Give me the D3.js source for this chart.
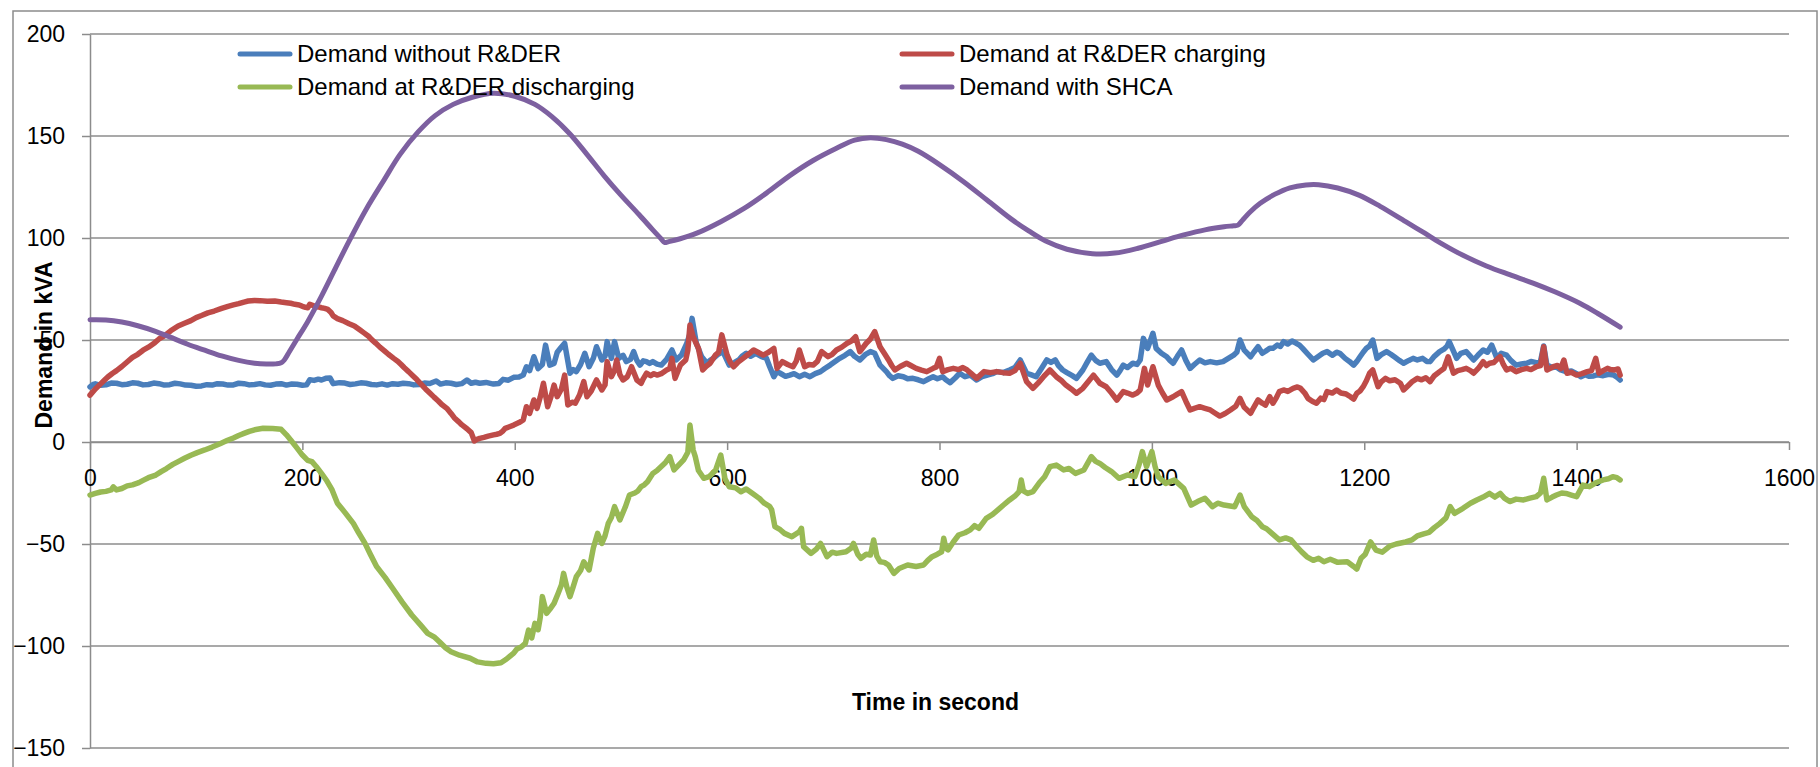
<!DOCTYPE html>
<html>
<head>
<meta charset="utf-8">
<script src="https://cdn.jsdelivr.net/npm/d3@7"></script>
<style>
  html, body { margin: 0; padding: 0; background: #ffffff; }
  svg { display: block; font-family: "Liberation Sans", Arial, sans-serif; }
</style>
</head>
<body>
<svg id="chart" width="1820" height="767"></svg>
<script>
// ---------------- DATA ----------------
const seriesNames = ["Demand without R&DER", "Demand at R&DER charging", "Demand at R&DER discharging", "Demand with SHCA"];
const xTicks = [0, 200, 400, 600, 800, 1000, 1200, 1400, 1600];
const yTicks = [-150, -100, -50, 0, 50, 100, 150, 200];
const xTitle = "Time in second";
const yTitle = "Demand in kVA";

// [time (s), demand (kVA)]
const demandWithout = [
 [0,27],[3,28.2],[5,28.5],[10,27.8],[15,28],[20,28.9],[25,28.8],[30,28.1],[35,28.3],[40,29.0],[45,28.8],[50,28.0],[55,28.2],
 [60,28.9],[65,28.6],[70,27.9],[75,28.1],[80,28.8],[85,28.5],[90,27.9],[95,27.8],[100,27.3],[105,27.5],[110,28.1],[115,27.9],
 [120,28.6],[125,28.4],[130,27.9],[135,28.0],[140,28.8],[145,28.6],[150,28.0],[155,28.2],[160,28.6],[165,28.0],[170,27.8],
 [175,28.4],[180,28.6],[185,27.9],[190,28.4],[195,28.3],[200,27.8],[204,28.0],[207,30.5],[211,30.2],[215,30.8],[218,30.4],
 [222,31.2],[226,31.4],[229,28.6],[235,29.1],[240,28.9],[245,28.2],[250,28.5],[255,29.0],[260,28.8],[265,28.2],[270,28.0],
 [275,28.5],[280,27.9],[285,28.6],[290,28.3],[295,28.8],[300,28.6],[305,28.0],[310,28.2],[315,28.9],[320,28.7],[326,29.9],
 [330,28.4],[335,29.0],[340,28.8],[345,28.2],[350,28.6],[355,30.4],[359,28.8],[363,29.3],[367,28.8],[373,29.2],[380,28.4],
 [385,28.7],[389,30.7],[394,30.3],[399,31.7],[404,31.9],[408,32.8],[411,36.9],[414,35],[418,41.8],[422,36],[426,38],[429,47.5],
 [433,37.7],[437,38.5],[440,44],[443,45.9],[447,48.4],[452,33.7],[455,35.5],[458,34.5],[462,38],[466,43.5],[470,36.9],
 [474,41],[477,46.7],[482,40.2],[485,42],[487,49.2],[491,41],[494,49.2],[498,41],[502,42.5],[505,39.4],[509,40.5],[512,44.3],
 [515,40],[518,37.7],[521,39.8],[524,39.4],[527,38.5],[530,39.4],[534,38.2],[538,37.7],[543,40.5],[548,45.1],[552,40.2],
 [557,42.6],[562,48.4],[565,53],[567,60.6],[571,48.4],[576,41.8],[581,38.6],[584,40],[587,41],[591,42.8],[596,44.3],
 [599,41],[602,37.7],[607,39],[611,40.2],[614,42],[618,43.5],[622,42],[627,43.5],[632,42],[637,41],[640,37],[644,32],
 [647,34.5],[650,33.7],[655,32.2],[659,32.8],[663,33.5],[668,32],[673,33.2],[678,32],[683,33.5],[688,34.5],[692,36],
 [697,37.7],[701,39.2],[706,41],[711,42.5],[716,44.3],[720,42],[725,40.2],[730,42.8],[735,44.3],[739,43.5],[744,37.7],
 [750,34.5],[753,32.5],[756,31.2],[761,32.5],[766,32],[770,31],[775,31.2],[780,30.5],[785,29.6],[790,31],[794,32],[798,31],
 [803,32],[806,30.5],[810,29.1],[815,31.5],[819,33.7],[824,32],[829,32.8],[835,30.4],[840,32],[845,32.8],[850,33.5],
 [854,34.5],[860,34],[866,35.3],[871,36.5],[876,40.2],[882,33.7],[886,33],[891,32],[896,36],[901,40.2],[905,39],[909,40.2],
 [912,37.5],[916,35.3],[920,34],[925,32.5],[929,31.2],[935,35.3],[939,39],[943,42.6],[947,40],[951,38.6],[957,39.4],
 [962,35.5],[967,32.8],[970,35],[973,37.7],[977,36.5],[982,38.6],[986,38],[989,40.2],[992,50.8],[996,45.9],[1001,53.3],
 [1004,45.9],[1009,43.5],[1014,41.8],[1017,40],[1020,38.6],[1024,42],[1028,45.1],[1032,40],[1036,36.1],[1040,38],
 [1045,40.2],[1050,38.8],[1055,39.4],[1061,38.8],[1067,39.4],[1072,41],[1077,42.6],[1080,44],[1083,50],[1087,45],[1093,41.8],
 [1096,44],[1100,46.7],[1104,43.5],[1107,44.5],[1111,46],[1114,45.9],[1118,47.5],[1121,46.8],[1124,49.2],[1128,48],
 [1132,49.5],[1136,48.4],[1139,47.5],[1142,45.9],[1147,43],[1152,40.2],[1157,42],[1161,43.5],[1165,44.3],[1170,42.5],
 [1174,44],[1177,43.5],[1182,41],[1186,39.5],[1190,37.7],[1193,39.5],[1196,41.8],[1199,44],[1202,45.9],[1205,47],[1208,50],
 [1212,41],[1216,42.8],[1221,44.3],[1225,43],[1229,41.5],[1233,40],[1237,38.6],[1242,40],[1246,41],[1250,40.2],[1255,41],
 [1259,39.5],[1262,39.4],[1266,42],[1271,44.3],[1275,45.5],[1278,47],[1280,49.2],[1284,44.5],[1287,41],[1291,43.5],
 [1296,44.3],[1300,42],[1303,40.2],[1307,42.5],[1312,45.1],[1316,44],[1320,47.5],[1325,41],[1329,43.5],[1334,42.6],
 [1338,40],[1343,37.7],[1348,38.2],[1353,38.6],[1357,39.5],[1362,38.9],[1366,39.5],[1369,47.1],[1372,37.7],[1377,36.5],
 [1381,36.8],[1385,35.3],[1390,34.5],[1395,34.8],[1400,33.5],[1404,32],[1408,33],[1412,32.2],[1416,32.4],[1420,33],
 [1425,32.5],[1430,33.2],[1435,32.8],[1438,31.8],[1441,30.4]
];

const demandCharging = [
 [0,23],[5,26],[10,28.5],[14,30.5],[17,32],[21,33.6],[25,35],[30,37],[36,39.7],[40,41.5],[45,43],[50,45],[55,46.5],[61,48.7],
 [65,50.5],[70,52],[76,54.5],[83,56.9],[89,58.2],[95,59.5],[100,61],[105,62],[111,63.3],[117,64.2],[124,65.5],[130,66.5],
 [135,67.2],[140,67.8],[145,68.6],[149,69.1],[155,69.4],[160,69.3],[167,69.0],[174,69.1],[180,68.6],[185,68.3],[189,68],
 [193,67.5],[197,67.2],[200,66.5],[203,66],[205,65.8],[207,67.5],[212,66.5],[215,66.2],[218,65.8],[221,65.5],[224,65],
 [227,63.5],[229,61.8],[233,60.5],[238,59.5],[244,58],[249,56.9],[254,55],[258,53.5],[262,52],[265,50.3],[269,48.5],
 [273,46.5],[277,44.8],[281,43],[286,41],[290,39.5],[293,38],[296,36.4],[300,34.5],[304,32.5],[308,30.5],[312,28.3],
 [316,26],[320,24],[324,22],[328,20.1],[331,18.5],[336,16.5],[340,14],[343,11.9],[347,10],[350,8.5],[355,6.5],[359,4.6],
 [362,0.5],[364,1.2],[367,1.8],[371,2.3],[375,2.9],[380,3.5],[383,3.8],[386,4.2],[389,5.5],[391,6.7],[395,7.5],[399,8.3],
 [404,9.5],[408,10.8],[411,17.3],[414,14],[418,20.6],[421,16.5],[424,22],[427,28.8],[431,17.3],[434,22],[437,27.9],
 [440,22.2],[444,26],[447,32.8],[450,18.1],[454,19.5],[457,19],[461,23],[465,29.6],[468,22.2],[472,25],[477,30.4],
 [482,25.5],[485,28],[487,39.4],[491,32],[494,35],[496,40.2],[499,33],[502,30.4],[506,32],[510,36.9],[515,30.4],[519,28.8],
 [521,31],[524,33.7],[528,32.5],[531,33.5],[534,32.8],[538,33.5],[543,35.3],[546,36],[548,41],[551,31.2],[556,37.7],
 [561,40.2],[563,45],[565,57.4],[568,51.6],[573,45.9],[577,35.3],[580,37],[584,38.6],[589,42.6],[592,44],[595,52.5],
 [600,42.6],[603,39],[606,36.9],[610,39],[615,41],[620,43],[625,45.1],[629,44],[634,42.6],[639,44],[644,45.9],[647,36.1],
 [652,39.4],[657,38],[662,36.9],[665,39.5],[668,45.1],[673,36.9],[677,38],[681,37.7],[685,39.5],[689,44.3],[695,41.8],
 [699,43],[703,45.1],[708,46.5],[713,48.4],[717,49.5],[721,51.6],[725,44.3],[731,48.4],[735,50.5],[739,54.1],[744,46.7],
 [748,43.5],[752,40.2],[755,37.5],[758,35.3],[763,37],[769,38.6],[773,37.5],[778,36.1],[783,35.2],[788,34.5],[794,36.1],
 [797,36.8],[800,41],[803,34.5],[808,35.5],[813,36.1],[818,35.5],[822,36.5],[826,35.3],[830,33.5],[835,31.2],[842,34.5],
 [848,34],[854,34.5],[860,34],[866,33.7],[871,35],[876,38.6],[882,29.6],[888,26.3],[893,29],[898,32],[904,35.3],[910,32],
 [915,30],[919,27.9],[924,26],[929,23.9],[935,26.3],[940,29.5],[945,32.8],[951,28.8],[957,27.1],[962,24],[967,20.6],
 [973,24.7],[977,24],[982,23],[986,24],[989,25.5],[993,36.1],[996,27.9],[1001,36.9],[1006,27.9],[1010,24],[1014,20.6],
 [1020,22.2],[1024,23.5],[1028,24.7],[1032,20],[1036,15.7],[1040,16.5],[1045,17.3],[1050,16.5],[1055,15.7],[1060,14],
 [1064,12.7],[1069,14],[1074,15.7],[1079,17.5],[1083,21.4],[1087,17],[1093,14.1],[1096,17],[1100,20.6],[1104,19],
 [1107,18.1],[1111,22.2],[1114,19],[1117,21.5],[1120,24.7],[1124,25.5],[1128,24.8],[1133,26.3],[1137,27],[1140,26.3],
 [1144,24],[1147,21.4],[1151,20],[1155,19],[1159,21.5],[1162,20.8],[1165,24.7],[1170,24],[1174,25.5],[1178,24],[1183,23.5],
 [1187,22.2],[1190,21],[1193,23.9],[1196,25],[1199,27.1],[1202,30],[1205,33.7],[1208,35.3],[1213,27.1],[1216,29.5],
 [1220,31.2],[1224,30],[1229,30.5],[1234,28.8],[1237,25.5],[1241,27.5],[1245,29.5],[1250,31.2],[1254,30.5],[1258,31.5],
 [1262,29.6],[1266,32.5],[1271,34.5],[1275,36],[1279,41.8],[1284,33.7],[1288,35],[1292,35.5],[1296,36.1],[1300,35],
 [1303,33.7],[1308,36.5],[1312,39.4],[1315,37.5],[1318,38.6],[1322,39],[1325,40.5],[1328,41.8],[1331,38],[1334,35.3],
 [1338,36.2],[1343,34.5],[1348,35.5],[1353,36.1],[1357,35.5],[1362,36.9],[1366,37.5],[1369,46.7],[1372,35.3],[1378,36.9],
 [1382,37.5],[1385,36],[1388,40.2],[1391,33.7],[1395,34.2],[1400,32.8],[1405,33.5],[1410,34.5],[1414,35],[1418,41],
 [1421,33.7],[1425,35],[1429,36.1],[1432,35.5],[1436,35.3],[1439,35.8],[1441,32.8]
];

const demandDischarging = [
 [0,-26],[5,-25.2],[10,-24.5],[15,-24.2],[20,-23.5],[22,-22],[25,-23.5],[30,-22.8],[35,-21.5],[40,-21],[46,-19.9],[50,-18.8],
 [55,-17.5],[62,-16.2],[67,-14.5],[72,-13],[78,-11],[83,-9.6],[89,-8],[95,-6.5],[101,-5.2],[108,-3.9],[115,-2.5],[123,-0.7],
 [129,0.7],[135,2],[140,3.2],[145,4.2],[150,5.2],[155,6],[163,6.7],[172,6.6],[180,6.2],[185,3.5],[189,1],[195,-3],[200,-6.4],
 [205,-9],[209,-9.6],[213,-12],[218,-15.4],[223,-19],[228,-23.5],[233,-30],[240,-34.5],[248,-39.9],[253,-44.5],[259,-49.7],
 [264,-55],[270,-61.1],[278,-66.5],[285,-71.7],[294,-78.5],[303,-84.8],[311,-89.5],[318,-93.8],[324,-95.5],[329,-97.9],
 [335,-101],[340,-102.8],[348,-104.5],[358,-106],[365,-107.8],[373,-108.5],[380,-108.7],[387,-108.2],[392,-106.5],
 [395,-105.2],[399,-103.5],[402,-101.5],[406,-100.5],[410,-98.7],[413,-92.2],[416,-96],[419,-88.9],[422,-92],[424,-86],
 [426,-75.8],[430,-84],[433,-82],[437,-79.1],[441,-74],[444,-70],[446,-64.4],[449,-71],[452,-75.8],[455,-71],[458,-66],
 [462,-63],[465,-58.7],[470,-62.7],[474,-52],[478,-44.8],[482,-49.7],[485,-46],[488,-40],[491,-37],[494,-31.7],[499,-38.2],
 [504,-32],[508,-26],[513,-25],[516,-24],[519,-21.9],[522,-21],[525,-19.5],[528,-17],[530,-15.4],[534,-14],[538,-12],
 [542,-10],[546,-7.2],[550,-13.7],[555,-11],[559,-8.8],[563,-5],[565,8.3],[568,-3.9],[570,-7.2],[573,-14],[578,-17.8],
 [583,-17],[589,-14],[594,-6.4],[598,-18],[602,-21.9],[608,-22.5],[613,-24.4],[618,-23],[624,-25.2],[630,-27.5],[635,-30],
 [640,-31.5],[642,-33.3],[645,-41.5],[650,-43],[654,-44.8],[661,-46.4],[668,-44],[670,-42.3],[672,-51.3],[679,-54.6],
 [684,-52.5],[688,-49.7],[694,-56.2],[699,-54],[703,-54.6],[712,-53.8],[717,-52],[719,-49.7],[723,-55],[726,-57],[731,-55],
 [735,-55.4],[738,-48],[741,-56],[744,-58.7],[748,-59],[752,-60.3],[757,-64.4],[762,-62],[770,-60.3],[778,-61],[785,-60.3],
 [789,-58],[793,-56.2],[798,-55],[802,-53.8],[804,-47.2],[806,-52],[808,-52.9],[813,-49],[818,-45.6],[824,-44.5],
 [829,-43.1],[833,-41],[837,-42.3],[844,-37.4],[850,-35.5],[855,-33.3],[860,-31],[866,-28.4],[871,-26.5],[875,-24.3],
 [877,-18.6],[879,-24],[883,-25.2],[888,-24.3],[894,-20],[899,-17],[904,-12.1],[910,-11.3],[917,-13.7],[922,-13],
 [928,-15.4],[936,-13.7],[943,-7.2],[947,-9.5],[951,-10.5],[956,-12.5],[962,-14.5],[969,-17.8],[977,-16.2],[984,-17],
 [988,-11],[991,-4.7],[995,-12.1],[1000,-4.7],[1003,-12],[1006,-17],[1013,-20.3],[1021,-18.6],[1030,-22.7],[1037,-30.9],
 [1043,-29.2],[1050,-27.6],[1057,-31.7],[1062,-30],[1068,-30.9],[1078,-31.7],[1083,-26],[1087,-31.7],[1094,-36.6],
 [1099,-38.5],[1104,-41.5],[1108,-42.5],[1113,-44.8],[1120,-48],[1126,-47],[1131,-48],[1136,-51],[1141,-53.8],[1146,-56.3],
 [1152,-58],[1157,-57],[1162,-58.7],[1168,-57.5],[1175,-59],[1184,-58.7],[1190,-61],[1193,-62.3],[1197,-57],[1201,-55],
 [1206,-49],[1211,-53],[1217,-54],[1224,-51],[1230,-50],[1239,-49],[1245,-48],[1250,-46],[1256,-45],[1261,-44.3],
 [1266,-42],[1271,-40],[1277,-37.2],[1281,-31.7],[1285,-35],[1293,-32.5],[1300,-30],[1306,-28.4],[1312,-27],[1318,-25.2],
 [1323,-27],[1328,-25.2],[1332,-27.5],[1337,-29.2],[1343,-28],[1350,-28.4],[1356,-27.5],[1362,-26.8],[1366,-25],
 [1369,-17.8],[1372,-28.4],[1377,-27],[1381,-26],[1386,-25],[1390,-25.2],[1395,-26],[1400,-26.8],[1406,-21.1],[1412,-21.9],
 [1418,-20],[1425,-18.6],[1430,-18],[1434,-17],[1438,-17.5],[1441,-18.6]
];

const demandSHCA = [
 [0,59.9],[15,59.8],[30,58.8],[45,57],[61,54.4],[75,51.5],[92,47.9],[108,45],[124,42.2],[140,40],[155,38.6],[166,38.2],
 [175,38.3],[180,38.8],[183,40.2],[188,44.5],[195,50.5],[205,59],[218,71.5],[230,84],[244,98.5],[260,114],[277,128.5],
 [292,141],[309,152],[325,160],[342,165.5],[360,169],[380,171],[400,169.5],[419,165.5],[435,159.5],[452,151],[468,141],
 [484,130.6],[500,121],[517,111.5],[530,104],[538,99.5],[541,97.8],[545,98.2],[555,99.5],[572,102.5],[594,108],[616,114.5],
 [637,122],[659,130.6],[681,138],[703,144],[720,148],[735,149.2],[750,148.2],[765,146],[780,142.5],[800,136],[823,127.5],
 [845,118.5],[867,109.5],[884,103.5],[900,98.5],[920,94.5],[944,92.3],[965,92.6],[987,95],[1010,98.5],[1030,101.5],
 [1050,104],[1068,105.5],[1077,106],[1081,106.3],[1085,108.5],[1092,112.5],[1102,117],[1116,121.5],[1130,124.6],
 [1145,126],[1157,126.1],[1175,124.5],[1195,121],[1215,115.5],[1239,108],[1255,103],[1272,97.5],[1293,91.5],[1315,86.3],
 [1337,82],[1359,77.9],[1380,73.5],[1403,68],[1420,63],[1441,56.3]
];

const seriesData = [demandWithout, demandCharging, demandDischarging, demandSHCA];
const seriesColors = ["#4A7EBB", "#BE4B48", "#98B954", "#7D60A0"];
const seriesSmooth = [false, false, false, true];

// ---------------- DRAW ----------------
const svg = d3.select("#chart");
const gridColor = "#8c8c8c";

const x = d3.scaleLinear().domain([0, 1600]).range([90, 1789]);
const y = d3.scaleLinear().domain([-150, 200]).range([748, 34]);

// outer chart border
svg.append("rect")
  .attr("x", 13).attr("y", 11).attr("width", 1804).attr("height", 800)
  .attr("fill", "none").attr("stroke", "#8c8c8c").attr("stroke-width", 1.5);

// horizontal gridlines
svg.append("g").selectAll("line").data(yTicks).join("line")
  .attr("x1", x(0)).attr("x2", x(1600))
  .attr("y1", d => y(d)).attr("y2", d => y(d))
  .attr("stroke", gridColor).attr("stroke-width", 1.5);

// y axis
const yAxis = svg.append("g").attr("transform", `translate(${x(0)},0)`)
  .call(d3.axisLeft(y).tickValues(yTicks).tickSize(8).tickSizeOuter(0).tickPadding(17).tickFormat(d3.format("d")));
yAxis.select(".domain").attr("stroke", gridColor).attr("stroke-width", 1.5);
yAxis.selectAll(".tick line").attr("stroke", gridColor).attr("stroke-width", 1.5);
yAxis.selectAll(".tick text").attr("font-size", 23).attr("fill", "#000")
  .attr("font-family", "'Liberation Sans', Arial, sans-serif");

// x axis at value 0
const xAxis = svg.append("g").attr("transform", `translate(0,${y(0)})`)
  .call(d3.axisBottom(x).tickValues(xTicks).tickSize(8).tickSizeOuter(0).tickPadding(20).tickFormat(d3.format("d")));
xAxis.select(".domain").attr("stroke", gridColor).attr("stroke-width", 1.5);
xAxis.selectAll(".tick line").attr("stroke", gridColor).attr("stroke-width", 1.5);
xAxis.selectAll(".tick text").attr("font-size", 23).attr("fill", "#000")
  .attr("font-family", "'Liberation Sans', Arial, sans-serif");

// series lines
const lineRaw = d3.line().x(d => x(d[0])).y(d => y(d[1]));
const lineSmooth = d3.line().x(d => x(d[0])).y(d => y(d[1])).curve(d3.curveCatmullRom.alpha(0.5));
svg.append("g").selectAll("path").data(seriesData).join("path")
  .attr("d", (d, i) => seriesSmooth[i] ? lineSmooth(d) : lineRaw(d))
  .attr("fill", "none")
  .attr("stroke", (d, i) => seriesColors[i])
  .attr("stroke-width", (d, i) => seriesSmooth[i] ? 5 : 5.5)
  .attr("stroke-linejoin", "round")
  .attr("stroke-linecap", "round");

// axis titles
svg.append("text")
  .attr("x", (x(0) + x(1600)) / 2 - 4).attr("y", 710)
  .attr("text-anchor", "middle").attr("font-size", 23).attr("font-weight", "bold")
  .text(xTitle);

svg.append("text")
  .attr("transform", `translate(52,345) rotate(-90)`)
  .attr("text-anchor", "middle").attr("font-size", 23).attr("font-weight", "bold")
  .text(yTitle);

// legend
const legendPos = [[238, 54], [900, 54], [238, 87], [900, 87]];
const legend = svg.append("g").selectAll("g").data(seriesNames).join("g")
  .attr("transform", (d, i) => `translate(${legendPos[i][0]},${legendPos[i][1]})`);
legend.append("line")
  .attr("x1", 2).attr("x2", 52).attr("y1", 0).attr("y2", 0)
  .attr("stroke", (d, i) => seriesColors[i]).attr("stroke-width", 5).attr("stroke-linecap", "round");
legend.append("text")
  .attr("x", 59).attr("y", 0).attr("dy", "0.35em")
  .attr("font-size", 24).attr("fill", "#000")
  .text(d => d);
</script>
</body>
</html>
